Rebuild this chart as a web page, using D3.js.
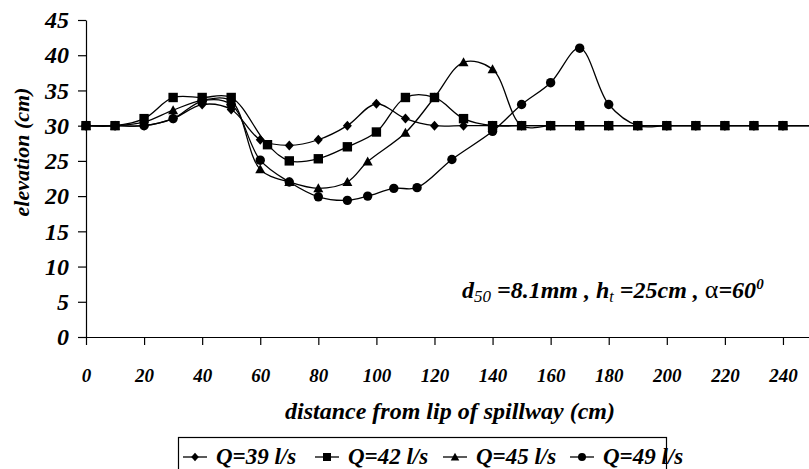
<!DOCTYPE html>
<html>
<head>
<meta charset="utf-8">
<script src="https://cdn.jsdelivr.net/npm/d3@7"></script>
<style>
  body { margin: 0; background: #fff; }
</style>
</head>
<body>
<div id="chart"></div>
<script>
var W = 809, H = 469;

// distance from lip of spillway (cm) and elevation (cm) for each discharge
var x39 = [0, 10, 20, 30, 40, 50, 60, 70, 80, 90, 100, 110, 120, 130, 140, 150, 160, 170, 180, 190, 200, 210, 220, 230, 240, 250];
var y39 = [30, 30, 30, 31, 33, 32.3, 28, 27.2, 28, 30, 33.1, 31, 30, 30, 30, 30, 30, 30, 30, 30, 30, 30, 30, 30, 30, 30];
var x42 = [0, 10, 20, 30, 40, 50, 62.5, 70, 80, 90, 100, 110, 120, 130, 140, 150, 160, 170, 180, 190, 200, 210, 220, 230, 240, 250];
var y42 = [30, 30, 31, 34, 34, 34, 27.3, 25, 25.3, 27, 29.1, 34, 34, 31, 30, 30, 30, 30, 30, 30, 30, 30, 30, 30, 30, 30];
var x45 = [0, 10, 20, 30, 40, 50, 60, 70, 80, 90, 97, 110, 120, 130, 140, 150, 160, 170, 180, 190, 200, 210, 220, 230, 240, 250];
var y45 = [30, 30, 30.5, 32.2, 33.6, 33.5, 23.8, 22, 21.1, 22, 24.9, 29, 34, 39, 38, 30, 30, 30, 30, 30, 30, 30, 30, 30, 30, 30];
var x49 = [0, 10, 20, 30, 40, 50, 60, 70, 80, 90, 97, 106, 114, 126, 140, 150, 160, 170, 180, 190, 200, 210, 220, 230, 240, 250];
var y49 = [30, 30, 30, 31, 33.5, 33, 25.1, 22, 19.9, 19.4, 20, 21.1, 21.2, 25.2, 29.2, 33, 36.1, 41, 33, 30, 30, 30, 30, 30, 30, 30];

var legendLabels = ['Q=39 l/s', 'Q=42 l/s', 'Q=45 l/s', 'Q=49 l/s'];
var shapes = ['diamond', 'square', 'triangle', 'circle'];
var xTicks = [0, 20, 40, 60, 80, 100, 120, 140, 160, 180, 200, 220, 240];
var yTicks = [0, 5, 10, 15, 20, 25, 30, 35, 40, 45];

var series = [
  { name: legendLabels[0], shape: shapes[0], pts: x39.map(function(d, i) { return [d, y39[i]]; }) },
  { name: legendLabels[1], shape: shapes[1], pts: x42.map(function(d, i) { return [d, y42[i]]; }) },
  { name: legendLabels[2], shape: shapes[2], pts: x45.map(function(d, i) { return [d, y45[i]]; }) },
  { name: legendLabels[3], shape: shapes[3], pts: x49.map(function(d, i) { return [d, y49[i]]; }) }
];

var FONT = "'Liberation Serif'";

// serif bold italic, like the original Times labels
var styleText = function(sel, size) {
  sel.style('font-family', FONT).style('font-weight', 'bold').style('font-style', 'italic')
     .style('font-size', size + 'px').attr('fill', '#000');
  return sel;
};

var svg = d3.select('#chart').append('svg').attr('width', W).attr('height', H);

var x = d3.scaleLinear().domain([0, 250]).range([86, 812]);
var y = d3.scaleLinear().domain([0, 45]).range([337, 20]);

// marker path for each shape
var markerPath = function(shape) {
  if (shape === 'diamond') return 'M0,-5L4.5,0L0,5L-4.5,0Z';
  if (shape === 'square') return 'M-4.7,-4.7H4.7V4.7H-4.7Z';
  if (shape === 'triangle') return 'M0,-5L5,4L-5,4Z';
  return 'M4.7,0A4.7,4.7 0 1,1 -4.7,0A4.7,4.7 0 1,1 4.7,0Z';
};

// axes
var xAxis = svg.append('g').attr('transform', 'translate(0,' + y(0) + ')')
  .call(d3.axisBottom(x).tickValues(xTicks).tickSize(8).tickSizeOuter(0).tickPadding(24));
var yAxis = svg.append('g').attr('transform', 'translate(' + x(0) + ',0)')
  .call(d3.axisLeft(y).tickValues(yTicks).tickSize(8).tickSizeOuter(0).tickPadding(9));

xAxis.selectAll('text').call(styleText, 19);
yAxis.selectAll('text').call(styleText, 24);
[xAxis, yAxis].forEach(function(g) {
  g.selectAll('path, line').attr('stroke', '#000').attr('stroke-width', 1.2);
});

// axis titles
svg.append('text').attr('x', 450).attr('y', 419).attr('text-anchor', 'middle')
  .call(styleText, 24).text('distance from lip of spillway (cm)');
svg.append('text').attr('transform', 'translate(29,152) rotate(-90)').attr('text-anchor', 'middle')
  .call(styleText, 22).text('elevation (cm)');

// curves
var line = d3.line().x(function(d) { return x(d[0]); }).y(function(d) { return y(d[1]); })
  .curve(d3.curveCatmullRom.alpha(0.5));

svg.selectAll('path.series').data(series).enter().append('path')
  .attr('class', 'series')
  .attr('d', function(d) { return line(d.pts); })
  .attr('fill', 'none').attr('stroke', '#000').attr('stroke-width', 1.3);

// markers, squares drawn last
var drawOrder = [0, 2, 3, 1];
drawOrder.forEach(function(k) {
  var s = series[k];
  svg.selectAll('path.m' + k).data(s.pts.filter(function(p) { return p[0] <= 240; })).enter().append('path')
    .attr('class', 'm' + k)
    .attr('transform', function(p) { return 'translate(' + x(p[0]) + ',' + y(p[1]) + ')'; })
    .attr('d', markerPath(s.shape))
    .attr('fill', '#000');
});

// annotation
var note = svg.append('text').attr('x', 462).attr('y', 298).call(styleText, 24);
note.append('tspan').text('d');
note.append('tspan').attr('dy', 4).style('font-size', '17px').style('font-weight', 'normal').text('50');
note.append('tspan').attr('dy', -4).text(' =8.1mm , h');
note.append('tspan').attr('dy', 4).style('font-size', '16px').style('font-weight', 'normal').text('t');
note.append('tspan').attr('dy', -4).text(' =25cm , ');
note.append('tspan').style('font-style', 'normal').style('font-weight', 'normal').style('font-size', '26px').text('\u03B1');
note.append('tspan').text('=60');
note.append('tspan').attr('dy', -9).style('font-size', '15px').text('0');

// legend
var legend = svg.append('g');
legend.append('rect').attr('x', 178.5).attr('y', 437.5).attr('width', 488).attr('height', 60)
  .attr('fill', 'none').attr('stroke', '#000').attr('stroke-width', 1.2);
var legX = [183, 315, 443, 570];
series.forEach(function(s, i) {
  var g = legend.append('g').attr('transform', 'translate(' + legX[i] + ',457)');
  g.append('line').attr('x1', 0).attr('x2', 24).attr('stroke', '#000').attr('stroke-width', 1.3);
  g.append('path').attr('transform', 'translate(12,0) scale(0.85)').attr('d', markerPath(s.shape)).attr('fill', '#000');
  g.append('text').attr('x', 33).attr('y', 7).call(styleText, 23).text(s.name);
});
</script>
</body>
</html>
